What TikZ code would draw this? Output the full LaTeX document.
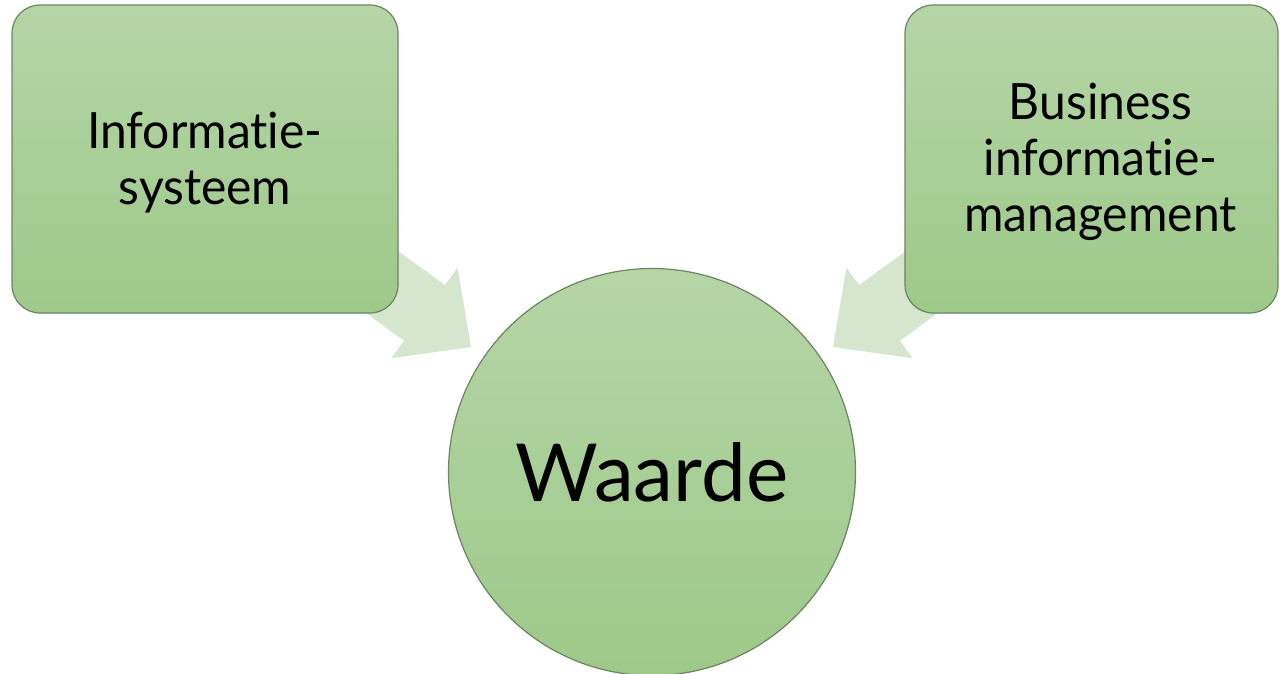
\documentclass[tikz,border=0pt]{standalone}
\usepackage{fontspec}
\setmainfont{Lato}[Ligatures=NoCommon]
\newfontfamily\panelfont{Lato}[Ligatures=NoCommon, FakeStretch=0.96]
\definecolor{gtop}{RGB}{181,213,167}
\definecolor{gbot}{RGB}{157,201,137}
\definecolor{edge}{RGB}{108,132,98}
\definecolor{flow}{RGB}{213,229,206}
% extra head room on a first line, which sets the text block a little lower
\newcommand{\headroom}{\rule{0pt}{21.5pt}}
\begin{document}
\begin{tikzpicture}[x=0.5pt,y=-0.5pt,
  panel/.style={draw=edge, line width=0.6pt, rounded corners=14pt,
    top color=gtop, bottom color=gbot, align=center, inner sep=0pt,
    minimum height=154pt, font=\panelfont\fontsize{25}{28}\selectfont},
  goal/.style={circle, draw=edge, line width=0.6pt, top color=gtop,
    bottom color=gbot, minimum size=203.5pt, inner sep=0pt,
    font=\fontsize{40}{44}\selectfont},
  flowarrow/.style={fill=flow, draw=none}]
\useasboundingbox (0,0) rectangle (1280,674);

% block arrows, drawn first so that the boxes cover their tails
\begin{scope}[shift={(471,347)}, rotate=-36.2]
  \path[flowarrow] (0,0) -- (-57.6,-56) -- (-57.6,-34.5) -- (-150,-34.5)
    -- (-150,34.5) -- (-57.6,34.5) -- (-57.6,56) -- cycle;
\end{scope}
\begin{scope}[shift={(833,347)}, rotate=-143.8]
  \path[flowarrow] (0,0) -- (-57.6,-56) -- (-57.6,-34.5) -- (-150,-34.5)
    -- (-150,34.5) -- (-57.6,34.5) -- (-57.6,56) -- cycle;
\end{scope}

\node[panel, minimum width=193pt] (sys) at (205,159)
  {\headroom Informatie-\\systeem};
\node[panel, minimum width=186.5pt] (bim) at (1091.5,159)
  {\hspace*{9pt}\headroom Business\\
   \hspace*{9pt}informatie-\\
   \hspace*{9pt}management};
\node[goal] (value) at (652,472) {Waarde};
\end{tikzpicture}
\end{document}
